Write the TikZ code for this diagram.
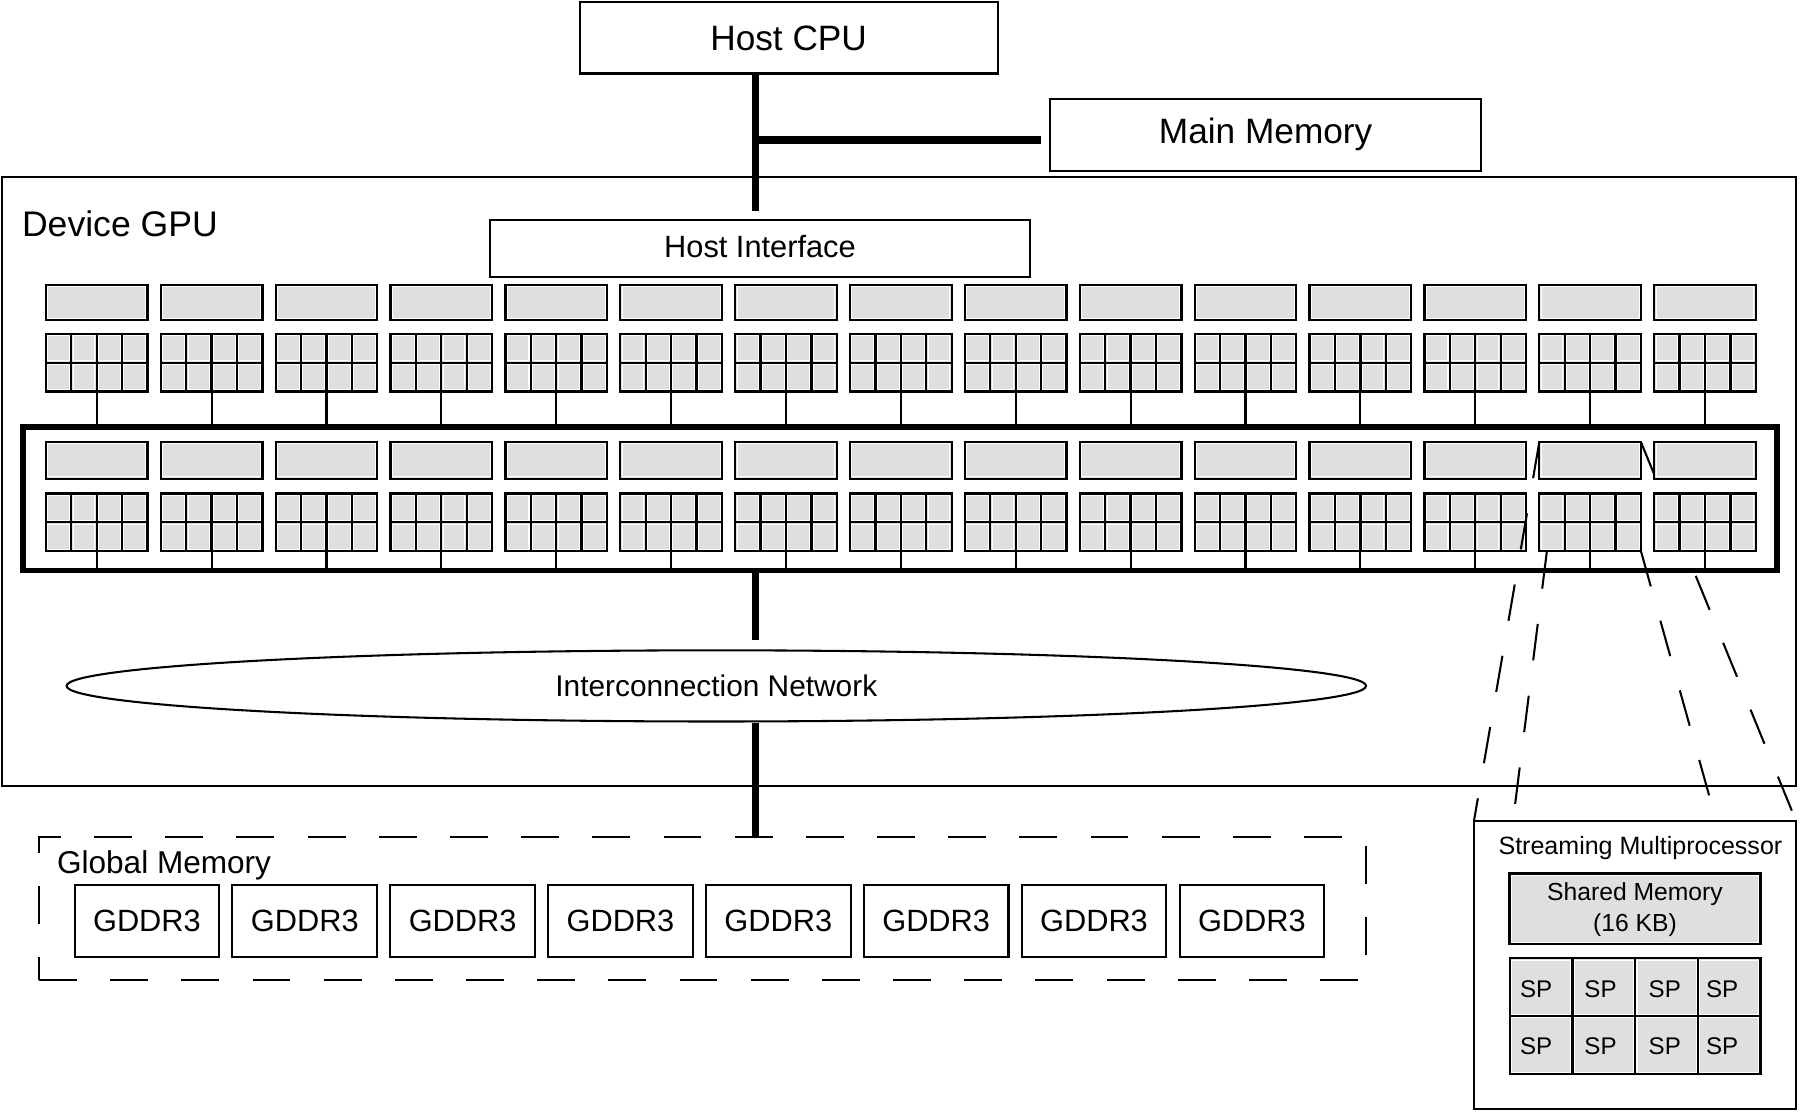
\documentclass[tikz,border=0pt]{standalone}
\usepackage{fontspec}
\setmainfont{Liberation Sans}
\usetikzlibrary{shapes.geometric,calc}
\definecolor{cellgray}{RGB}{223,223,223}

% white rim inside a filled box
\newcommand\smrim[1]{%
  \draw[white, line width=0.9pt] ($(#1.north west)+(1.6,1.6)$) rectangle ($(#1.south east)+(-1.6,-1.6)$);%
}
% grid of cells inside a node: name, cols, rows, cell width, cell height
\newcommand\smgrid[5]{%
  \foreach \ci in {1,...,#2}{\foreach \cj in {1,...,#3}{%
    \draw[white, line width=0.9pt] ($(#1.north west)+({(\ci-1)*#4+1.6},{(\cj-1)*#5+1.6})$) rectangle ++({#4-3.2},{#5-3.2});%
  }}%
  \foreach \ci in {2,...,#2}{\draw[line width=2pt] ($(#1.north west)+({(\ci-1)*#4},0)$) -- ($(#1.south west)+({(\ci-1)*#4},0)$);}%
  \foreach \cj in {2,...,#3}{\draw[line width=2pt] ($(#1.north west)+(0,{(\cj-1)*#5})$) -- ($(#1.north east)+(0,{(\cj-1)*#5})$);}%
}
% one column of two streaming multiprocessors
\newcommand\smcolumn[1]{%
  \pgfmathsetmacro\colx{40+100.07*(#1-1)}%
  \node[cellbox, minimum width=88.5, minimum height=31] (bara-#1) at (\colx,248) {};
  \smrim{bara-#1}
  \node[cellbox, minimum width=88.5, minimum height=50] (grida-#1) at (\colx,291) {};
  \smgrid{grida-#1}{4}{2}{22.125}{25}
  \draw[link] (grida-#1.south) -- (grida-#1.south |- tb.north);
  \node[cellbox, minimum width=88.5, minimum height=32] (barb-#1) at (\colx,385) {};
  \smrim{barb-#1}
  \node[cellbox, minimum width=88.5, minimum height=50] (gridb-#1) at (\colx,430) {};
  \smgrid{gridb-#1}{4}{2}{22.125}{25}
  \draw[link] (gridb-#1.south) -- (gridb-#1.south |- tb.south);
}

\begin{document}
\begin{tikzpicture}[x=1pt,y=-1pt,
  bx/.style={draw, line width=1.8pt, inner sep=0pt, outer sep=0pt},
  cellbox/.style={draw, fill=cellgray, line width=2pt, inner sep=0pt, outer sep=0pt, anchor=north west},
  bus/.style={line width=6.5pt},
  link/.style={line width=1.8pt},
  zoomline/.style={line width=1.8pt, dash pattern=on 32pt off 31pt},
  gmline/.style={draw, line width=1.8pt, dash pattern=on 33pt off 29pt},
  bigtext/.style={font=\fontsize{30.7}{36}\selectfont},
  midtext/.style={font=\fontsize{26.8}{32}\selectfont},
  sptext/.style={font=\fontsize{21}{24}\selectfont},
]
\useasboundingbox (0,0) rectangle (1568,971);

% ---------- host side ----------
\node[bx, minimum width=364, minimum height=62, bigtext] (hostcpu) at (687,33) {Host CPU};
\node[bx, minimum width=375, minimum height=63, bigtext] (mainmem) at (1102.5,117.5) {Main Memory};

% ---------- device GPU ----------
\node[bx, minimum width=1562.5, minimum height=531] (gpu) at (783.25,419.5) {};
\node[anchor=base west, inner sep=0pt, font=\fontsize{31}{36}\selectfont] (gpulabel) at (19,206) {Device GPU};
\node[bx, minimum width=470, minimum height=49, midtext, text depth=4pt] (hostif) at (662,216.5) {Host Interface};

\node[draw, line width=4.8pt, inner sep=0pt, outer sep=0pt, minimum width=1528, minimum height=125] (tb) at (784,434.5) {};

% buses
\coordinate (busx) at (658,0);
\coordinate (junc) at (658,122);
\draw[bus] (hostcpu.south -| busx) -- ($(hostif.north -| busx)+(0,-8.5)$);
\draw[bus, line width=7pt] (junc) -- ($(mainmem.west |- junc)+(-8,0)$);

% streaming multiprocessors, columns 1..14
\foreach \k in {1,...,14}{\smcolumn{\k}}

% interconnection network
\node[draw, ellipse, line width=1.8pt, inner sep=0pt, minimum width=1132, minimum height=62,
      font=\fontsize{26}{31}\selectfont] (icn) at (624,597.5) {Interconnection Network};
\draw[bus] (tb.south -| busx) -- ($(icn.north -| busx)+(0,-8)$);

% ---------- global memory ----------
\node[gmline, minimum width=1156, minimum height=125, inner sep=0pt, outer sep=0pt] (gm) at (612,791.5) {};
\node[anchor=base west, inner sep=0pt, font=\fontsize{27.5}{33}\selectfont] (gmlabel) at (49.5,760.5) {Global Memory};
\foreach \j in {1,...,8}{
  \node[bx, minimum width=126, minimum height=63, midtext] (gddr-\j) at ({128+137.5*(\j-1)},802.5) {GDDR3};
}
\draw[bus] (icn.south -| busx) -- (gm.north -| busx);

% ---------- streaming multiprocessor detail ----------
\node[bx, fill=white, minimum width=280.5, minimum height=251] (sm) at (1424.25,840.5) {};
\node[anchor=base, inner sep=0pt, font=\fontsize{21.8}{26}\selectfont] (smlabel) at (1429,744.7) {Streaming Multiprocessor};
\node[cellbox, minimum width=218.5, minimum height=61.5] (shm) at (1315,761) {};
\smrim{shm}
\node[align=center, inner sep=0pt, font=\fontsize{21.5}{27}\selectfont] (shmtext) at ($(shm.center)+(0,1)$) {Shared Memory\\(16 KB)};
\node[cellbox, minimum width=218.4, minimum height=100.8] (spgrid) at (1315.2,834.7) {};
\smgrid{spgrid}{4}{2}{54.6}{50.4}
\foreach \sx [count=\si] in {1324,1380,1436,1486}{
  \node[anchor=base west, inner sep=0pt, sptext] (spa-\si) at (\sx,869) {SP};
  \node[anchor=base west, inner sep=0pt, sptext] (spb-\si) at (\sx,919) {SP};
}

% zoom lines from SM 14 to the detail
\draw[zoomline] (barb-14.north west) -- (sm.north west);
\draw[zoomline] ($(gridb-14.south west)+(6.5,1)$) -- ($(sm.north west)+(34,0)$);
\draw[zoomline] (gridb-14.south east) -- ($(sm.north west)+(211,0)$);
\draw[zoomline] (barb-14.north east) -- (sm.north east);

% column 15 drawn last (covers part of a zoom line)
\smcolumn{15}

\end{tikzpicture}
\end{document}
